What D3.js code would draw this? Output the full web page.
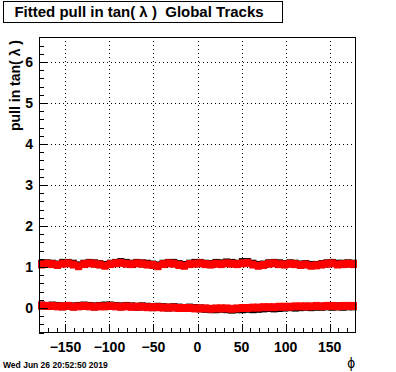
<!DOCTYPE html>
<html><head><meta charset="utf-8">
<script src="https://cdn.jsdelivr.net/npm/d3@7"></script>
<style>body{margin:0;background:#fff}svg{display:block}text{font-family:"Liberation Sans",Arial,sans-serif;white-space:pre}</style>
</head><body>
<script>
const phi = [-177,-171,-165,-159,-153,-147,-141,-135,-129,-123,-117,-111,-105,-99,-93,-87,-81,-75,-69,-63,-57,-51,-45,-39,-33,-27,-21,-15,-9,-3,3,9,15,21,27,33,39,45,51,57,63,69,75,81,87,93,99,105,111,117,123,129,135,141,147,153,159,165,171,177];
const upperBlack = [1.08,1.09,1.08,1.06,1.10,1.10,1.08,1.04,1.08,1.10,1.09,1.07,1.05,1.08,1.10,1.12,1.10,1.08,1.10,1.09,1.08,1.06,1.04,1.08,1.10,1.10,1.07,1.05,1.08,1.10,1.10,1.08,1.07,1.10,1.09,1.11,1.10,1.08,1.12,1.12,1.08,1.05,1.06,1.09,1.10,1.09,1.07,1.09,1.08,1.06,1.07,1.05,1.05,1.07,1.09,1.10,1.08,1.08,1.09,1.08];
const upperRed = [1.06,1.08,1.07,1.05,1.08,1.09,1.06,1.02,1.07,1.09,1.08,1.06,1.03,1.07,1.09,1.10,1.08,1.07,1.09,1.08,1.06,1.05,1.02,1.07,1.09,1.08,1.05,1.03,1.07,1.08,1.09,1.07,1.06,1.08,1.07,1.09,1.08,1.07,1.09,1.10,1.06,1.03,1.05,1.08,1.09,1.07,1.06,1.08,1.07,1.05,1.06,1.03,1.04,1.06,1.08,1.09,1.06,1.07,1.08,1.07];
const lowerBlack = [0.06,0.05,0.06,0.05,0.04,0.05,0.04,0.05,0.06,0.05,0.04,0.05,0.06,0.06,0.05,0.04,0.05,0.04,0.03,0.04,0.03,0.02,0.03,0.02,0.01,0.02,0.01,0.00,0.01,0.00,-0.01,-0.02,-0.03,-0.03,-0.02,-0.03,-0.04,-0.03,-0.03,-0.02,-0.03,-0.02,-0.01,0.00,-0.01,0.00,0.01,0.02,0.01,0.02,0.03,0.02,0.03,0.03,0.04,0.03,0.04,0.03,0.04,0.04];
const lowerRed = [0.06,0.05,0.05,0.04,0.04,0.05,0.03,0.04,0.05,0.04,0.03,0.04,0.04,0.05,0.04,0.03,0.04,0.03,0.03,0.03,0.02,0.02,0.02,0.01,0.01,0.01,0.00,0.00,0.00,-0.01,-0.01,-0.01,-0.02,-0.01,-0.01,-0.01,-0.02,-0.01,0.00,0.00,0.01,0.01,0.02,0.02,0.02,0.03,0.03,0.03,0.04,0.04,0.04,0.04,0.05,0.04,0.05,0.05,0.04,0.05,0.05,0.05];
const xTicks = [-150,-100,-50,0,50,100,150];
const yTicks = [0,1,2,3,4,5,6];
const titleText = "Fitted pull in tan( \u03bb )  Global Tracks";
const yTitle = "pull in tan( \u03bb )";
const xTitle = "\u03d5";
const dateText = "Wed Jun 26 20:52:50 2019";

const W=396,H=372;
const L=39,R=356,T=37,B=333;
const svg=d3.select("body").append("svg").attr("width",W).attr("height",H);
const x=d3.scaleLinear().domain([-180,180]).range([L,R]);
const y=d3.scaleLinear().domain([-0.61,6.61]).range([B,T]);

// grid
const g=svg.append("g");
g.selectAll("line.gx").data(xTicks).join("line")
 .attr("x1",d=>Math.round(x(d))+0.5).attr("x2",d=>Math.round(x(d))+0.5)
 .attr("y1",T).attr("y2",B).attr("stroke","#000").attr("stroke-dasharray","1,3");
g.selectAll("line.gy").data(yTicks).join("line")
 .attr("y1",d=>Math.round(y(d))+0.5).attr("y2",d=>Math.round(y(d))+0.5)
 .attr("x1",L).attr("x2",R).attr("stroke","#000").attr("stroke-dasharray","1,3");

// data
function drawSeries(vals,color,op){
  const s=svg.append("g");
  s.selectAll("rect").data(phi.map((p,i)=>[p,vals[i]])).join("rect")
   .attr("x",d=>x(d[0])-3.5).attr("width",7)
   .attr("y",d=>y(d[1])-4).attr("height",8)
   .attr("fill",color).attr("opacity",op);
}
drawSeries(upperBlack,"#000",1);
drawSeries(lowerBlack,"#000",1);
drawSeries(upperRed,"#ff0000",1);
drawSeries(lowerRed,"#ff0000",1);

// frame
svg.append("rect").attr("x",L+0.5).attr("y",T+0.5).attr("width",R-L-1).attr("height",B-T-1)
 .attr("fill","none").attr("stroke","#000");

// y axis ticks (inside)
const yMinor=d3.range(-0.6,6.61,0.2).filter(v=>Math.abs(v-Math.round(v))>0.01);
svg.selectAll("line.ymaj").data(yTicks).join("line")
 .attr("x1",L).attr("x2",L+9).attr("y1",d=>Math.round(y(d))+0.5).attr("y2",d=>Math.round(y(d))+0.5).attr("stroke","#000");
svg.selectAll("line.ymin").data(yMinor).join("line")
 .attr("x1",L).attr("x2",L+5).attr("y1",d=>Math.round(y(d))+0.5).attr("y2",d=>Math.round(y(d))+0.5).attr("stroke","#000");
svg.selectAll("text.yl").data(yTicks).join("text")
 .attr("x",33).attr("y",d=>y(d)+5).attr("text-anchor","end")
 .attr("font-size",14).attr("font-weight","bold").text(d=>d);

// x axis ticks
const xMinor=d3.range(-170,171,10).filter(v=>v%50!==0);
svg.selectAll("line.xmaj").data(xTicks).join("line")
 .attr("x1",d=>Math.round(x(d))+0.5).attr("x2",d=>Math.round(x(d))+0.5).attr("y1",B).attr("y2",B-9).attr("stroke","#000");
svg.selectAll("line.xmin").data(xMinor).join("line")
 .attr("x1",d=>Math.round(x(d))+0.5).attr("x2",d=>Math.round(x(d))+0.5).attr("y1",B).attr("y2",B-5).attr("stroke","#000");
svg.selectAll("text.xl").data(xTicks).join("text")
 .attr("x",d=>x(d)).attr("y",352).attr("text-anchor","middle")
 .attr("font-size",14).attr("font-weight","bold").text(d=>d<0?"\u2212"+(-d):d);

// titles
svg.append("rect").attr("x",3.5).attr("y",1.5).attr("width",279).attr("height",21).attr("fill","#fff").attr("stroke","#000");
svg.append("text").attr("x",139).attr("y",17).attr("text-anchor","middle").attr("font-size",15).attr("font-weight","bold").text(titleText);
svg.append("text").attr("transform","translate(20,40) rotate(-90)").attr("text-anchor","end")
 .attr("font-size",14).attr("font-weight","bold").text(yTitle);
svg.append("text").attr("x",355).attr("y",368).attr("text-anchor","end").attr("font-size",14).text(xTitle);
svg.append("text").attr("x",3).attr("y",368).attr("font-size",8.5).attr("font-weight","bold").text(dateText);
</script>
</body></html>
